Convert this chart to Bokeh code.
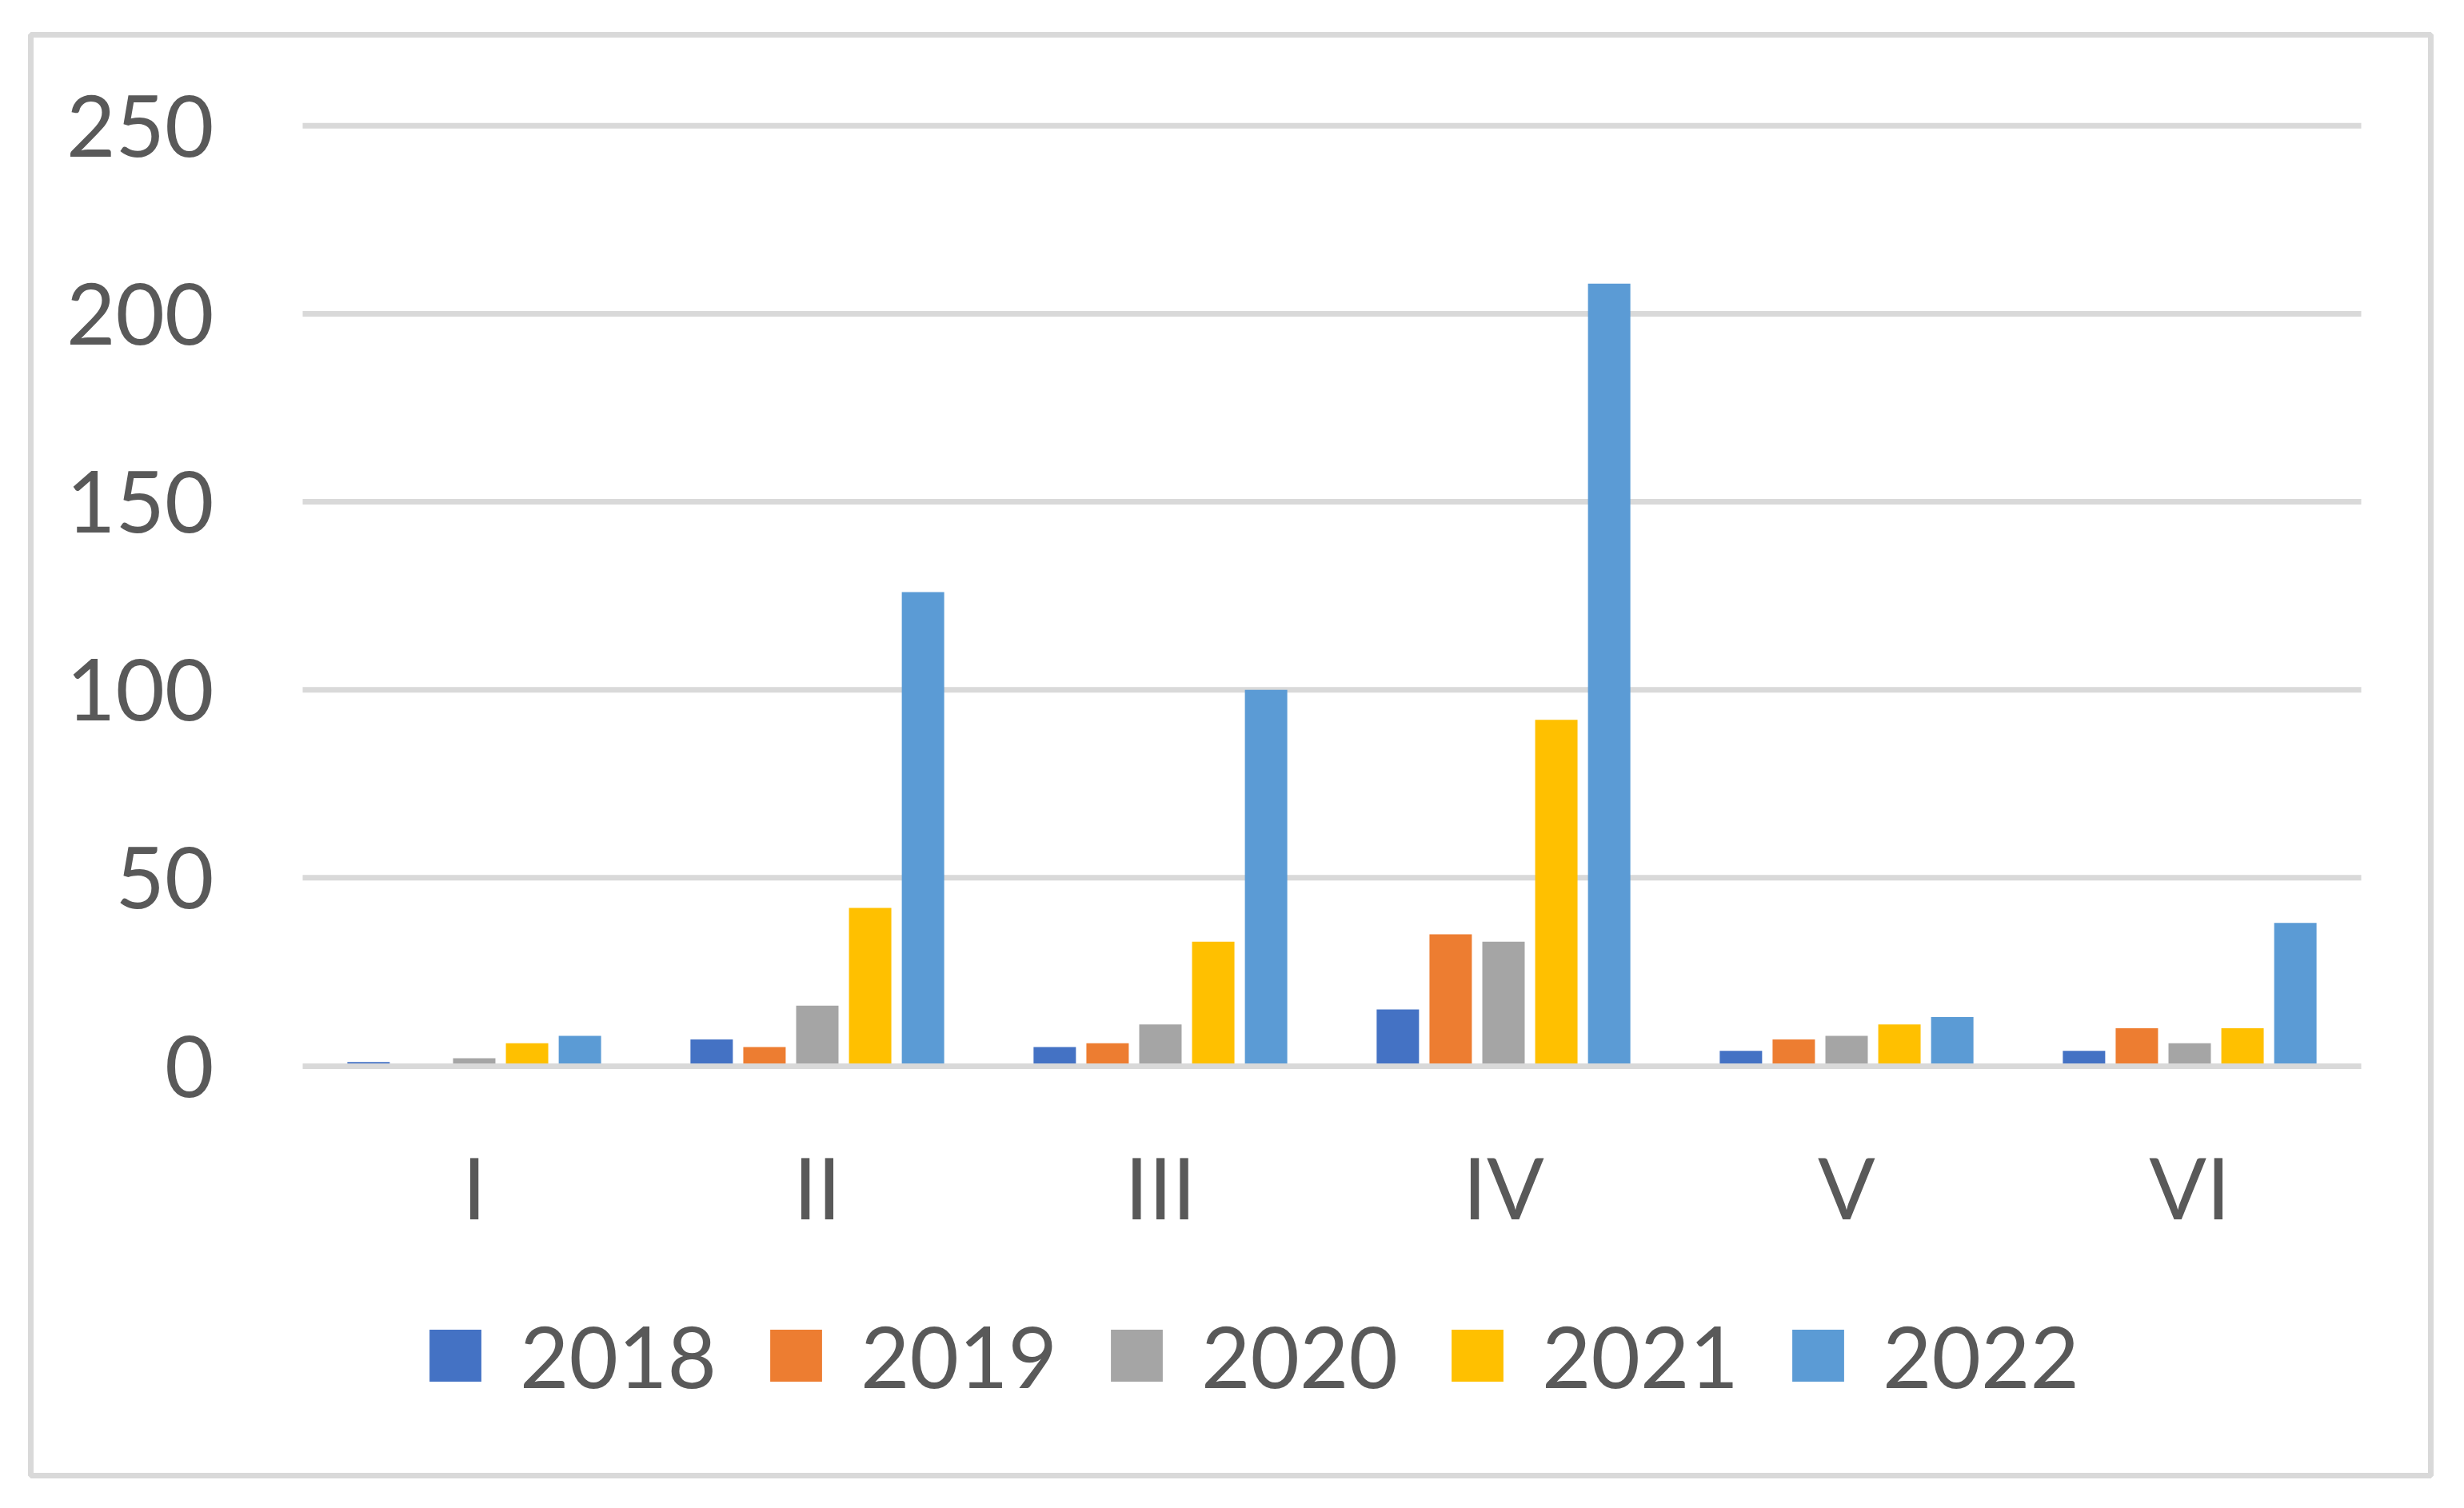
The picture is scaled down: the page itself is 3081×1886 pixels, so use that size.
from bokeh.plotting import figure
from bokeh.models import (ColumnDataSource, Range1d, FixedTicker, Legend, LegendItem)
from bokeh.transform import dodge
from bokeh.embed import file_html
from bokeh.resources import INLINE

# ---- data ----
categories = ["I", "II", "III", "IV", "V", "VI"]
years = ["2018", "2019", "2020", "2021", "2022"]
v2018 = [1, 7, 5, 15, 4, 4]
v2019 = [0, 5, 6, 35, 7, 10]
v2020 = [2, 16, 11, 33, 8, 6]
v2021 = [6, 42, 33, 92, 11, 10]
v2022 = [8, 126, 100, 208, 13, 38]
y_ticks = [0, 50, 100, 150, 200, 250]
colors = ["#4472C4", "#ED7D31", "#A5A5A5", "#FFC000", "#5B9BD5"]

n = len(categories)
x_pos = [i + 0.5 for i in range(n)]
series = {"2018": v2018, "2019": v2019, "2020": v2020, "2021": v2021, "2022": v2022}
source = ColumnDataSource(data=dict(x=x_pos, cat=categories, **series))

FONT = "Lato"
TXT = "#595959"
GRID = "#D9D9D9"
FS = "106px"

W, H = 3065, 1870
p = figure(width=W, height=H,
           x_range=Range1d(-0.7925, n + 0.2028),
           y_range=Range1d(-108.97, 274.19),
           output_backend="svg", toolbar_location=None,
           min_border_left=38, min_border_right=26, min_border_top=43,
           min_border_bottom=25)
p.background_fill_color = "white"
p.border_fill_color = "white"
# outer chart border = frame outline
p.outline_line_color = GRID
p.outline_line_width = 7

p.xgrid.visible = False
p.ygrid.visible = False

# horizontal gridlines over the category span
p.segment(x0=0, x1=n, y0=y_ticks[1:], y1=y_ticks[1:], line_color=GRID,
          line_width=7, level="underlay")

pitch = 0.154
bar_w = 0.1235
legend_items = []
for i, (yr, col) in enumerate(zip(years, colors)):
    p.vbar(x=dodge("x", (i - 2) * pitch), top=yr, width=bar_w,
           source=source, fill_color=col, line_color=None)
    # zero-size square markers: only used to draw the square legend swatches
    r = p.scatter(x="x", y=yr, source=source, size=0, marker="square",
                  fill_color=col, line_color=None)
    legend_items.append(LegendItem(label=yr, renderers=[r]))

# y axis
p.yaxis.fixed_location = 0
p.yaxis.ticker = FixedTicker(ticks=y_ticks)
p.yaxis.axis_line_color = None
p.yaxis.major_tick_line_color = None
p.yaxis.minor_tick_line_color = None
p.yaxis.major_tick_out = 0
p.yaxis.major_tick_in = 0
p.yaxis.major_label_standoff = 111
p.yaxis.major_label_text_font = FONT
p.yaxis.major_label_text_font_size = FS
p.yaxis.major_label_text_color = TXT

# x axis (category labels + zero line)
p.xaxis.fixed_location = 0
p.xaxis.bounds = (0, n)
p.xaxis.ticker = FixedTicker(ticks=x_pos)
p.xaxis.major_label_overrides = {xp: c for xp, c in zip(x_pos, categories)}
p.xaxis.axis_line_color = GRID
p.xaxis.axis_line_width = 7
p.xaxis.major_tick_line_color = None
p.xaxis.minor_tick_line_color = None
p.xaxis.major_tick_out = 0
p.xaxis.major_tick_in = 0
p.xaxis.major_label_standoff = 87
p.xaxis.major_label_text_font = FONT
p.xaxis.major_label_text_font_size = FS
p.xaxis.major_label_text_color = TXT

legend = Legend(items=legend_items, orientation="horizontal", location=(450, 69),
                glyph_width=162, glyph_height=162, label_standoff=0, spacing=2,
                label_width=262, padding=0, margin=0, border_line_color=None,
                background_fill_alpha=0,
                label_text_font=FONT, label_text_font_size=FS, label_text_color=TXT)
p.add_layout(legend, "center")

open("out.html", "w").write(file_html(p, INLINE))
